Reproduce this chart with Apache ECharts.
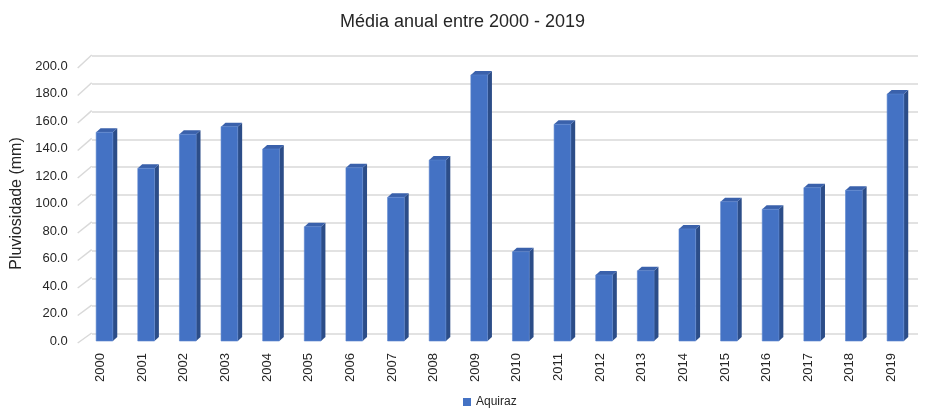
<!DOCTYPE html>
<html>
<head>
<meta charset="utf-8">
<script src="https://cdn.jsdelivr.net/npm/echarts@6/dist/echarts.min.js"></script>
<style>
html,body{margin:0;padding:0;background:#fff;}
#chart{width:925px;height:411px;}
</style>
</head>
<body>
<div id="chart"></div>
<script>
const years = ['2000','2001','2002','2003','2004','2005','2006','2007','2008','2009','2010','2011','2012','2013','2014','2015','2016','2017','2018','2019'];
const rainfall = [151.8,125.6,150.3,155.9,139.6,83.1,126.0,104.5,131.6,193.5,64.9,157.6,48.0,51.1,81.5,101.3,95.8,111.5,109.6,179.6];
const yTicks = [0,20,40,60,80,100,120,140,160,180,200];
const seriesName = 'Aquiraz';

const FONT = 'Liberation Sans, Arial, sans-serif';
const GRIDC = '#d9d9d9';

const chart = echarts.init(document.getElementById('chart'));

chart.setOption({
  backgroundColor: '#fff',
  animation: false,
  title: {
    text: 'Média anual entre 2000 - 2019',
    left: 'center',
    top: 8,
    textStyle: { fontFamily: FONT, fontSize: 18, fontWeight: 'normal', color: '#262626' }
  },
  legend: {
    data: [{ name: seriesName, icon: 'rect' }],
    left: 458,
    top: 391,
    itemWidth: 8,
    itemHeight: 8,
    textStyle: { fontFamily: FONT, fontSize: 12, color: '#262626' }
  },
  grid: [
    { left: 79.7, right: 12.7, top: 66, bottom: 70 },
    { left: 92, right: 7, top: 56, bottom: 77 }
  ],
  xAxis: [
    {
      gridIndex: 0,
      type: 'category',
      data: years,
      axisLine: { show: false },
      axisTick: { show: false },
      axisLabel: { rotate: 90, margin: 12, fontFamily: FONT, fontSize: 13, color: '#262626' }
    },
    { gridIndex: 1, type: 'value', min: 0, max: 1, show: false }
  ],
  yAxis: [
    {
      gridIndex: 0,
      type: 'value',
      min: 0, max: 200, interval: 20,
      name: 'Pluviosidade (mm)',
      nameLocation: 'middle',
      nameGap: 47,
      nameTextStyle: { fontFamily: FONT, fontSize: 16, color: '#262626' },
      axisLine: { show: false },
      axisTick: { show: false },
      splitLine: { show: false },
      axisLabel: { margin: 12, padding: [4, 0, 0, 0], fontFamily: FONT, fontSize: 13, color: '#262626', formatter: v => v.toFixed(1) }
    },
    {
      gridIndex: 1,
      type: 'value',
      min: 0, max: 200, interval: 20,
      axisLine: { show: false },
      axisTick: { show: false },
      axisLabel: { show: false },
      splitLine: { show: true, lineStyle: { color: GRIDC, width: 1.5 } }
    }
  ],
  series: [
    {
      name: 'wall',
      type: 'custom',
      xAxisIndex: 0, yAxisIndex: 0,
      silent: true,
      z: 1,
      data: yTicks.map(v => [0, v]),
      renderItem: function (params, api) {
        const v = api.value(1);
        const p = api.coord([0, v]);
        const x0 = params.coordSys.x - 2;
        return {
          type: 'line',
          shape: { x1: x0, y1: p[1] + 2, x2: x0 + 14, y2: p[1] - 8 - v * 0.015 },
          style: { stroke: GRIDC, lineWidth: 1.5 }
        };
      }
    },
    {
      name: seriesName,
      type: 'custom',
      xAxisIndex: 0, yAxisIndex: 0,
      z: 3,
      itemStyle: { color: '#4472C4' },
      data: years.map((y, i) => [i, rainfall[i]]),
      renderItem: function (params, api) {
        const i = api.value(0), v = api.value(1);
        const t = api.coord([i, v]);
        const b = api.coord([i, 0]);
        const cx = t[0] + 4;
        const hw = 8.35, dx = 4.4, dy = 4;
        const ty = t[1], by = b[1];
        return {
          type: 'group',
          children: [
            { type: 'polygon', shape: { points: [[cx + hw, ty], [cx + hw + dx, ty - dy], [cx + hw + dx, by - dy], [cx + hw, by]] }, style: { fill: '#2C4D88' } },
            { type: 'polygon', shape: { points: [[cx - hw, ty], [cx - hw + dx, ty - dy], [cx + hw + dx, ty - dy], [cx + hw, ty]] }, style: { fill: '#3A61AB' } },
            { type: 'rect', shape: { x: cx - hw, y: ty, width: hw * 2, height: by - ty }, style: { fill: '#4472C4', stroke: '#5B85CF', lineWidth: 0.6 } }
          ]
        };
      }
    }
  ]
});
</script>
</body>
</html>
